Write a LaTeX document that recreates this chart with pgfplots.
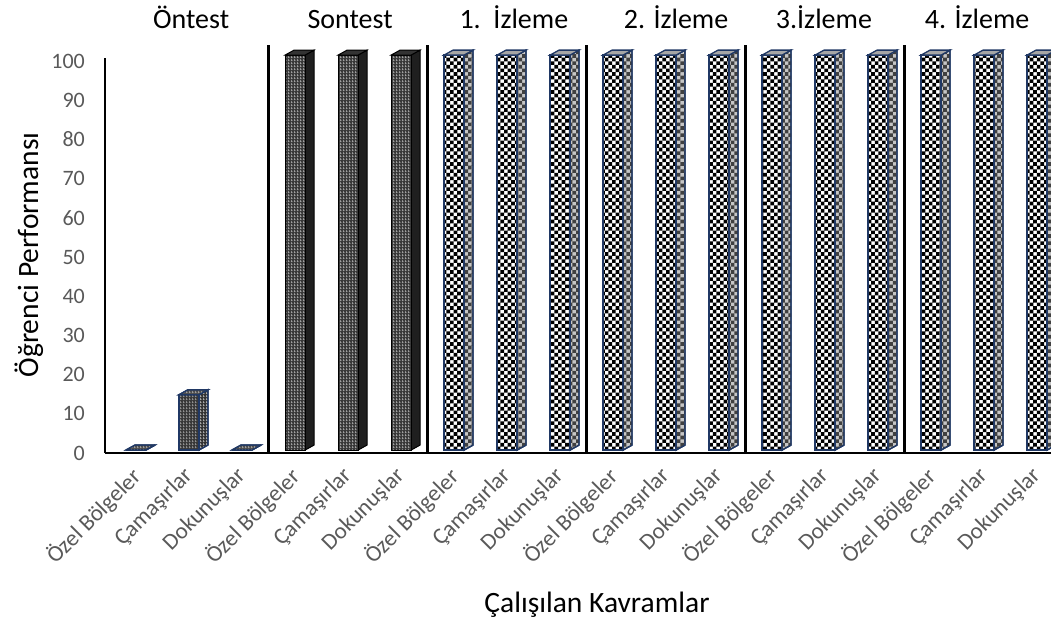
\documentclass[border=0pt]{standalone}
\usepackage{pgfplots}
\usepackage{pgfplotstable}
\pgfplotsset{compat=1.18}
\usepackage{fontspec}
\setmainfont{Carlito}
\usetikzlibrary{patterns}

\definecolor{tickgray}{RGB}{89,89,89}
\definecolor{barnavy}{RGB}{32,56,100}

% checkerboard with larger squares than the stock one
\pgfdeclarepatternformonly{checks}{\pgfqpoint{-.1bp}{-.1bp}}{\pgfqpoint{7.3bp}{7.3bp}}{\pgfqpoint{7.2bp}{7.2bp}}{%
  \pgfpathrectangle{\pgfqpoint{0bp}{0bp}}{\pgfqpoint{3.65bp}{3.65bp}}%
  \pgfpathrectangle{\pgfqpoint{3.6bp}{3.6bp}}{\pgfqpoint{3.65bp}{3.65bp}}%
  \pgfusepath{fill}}
% fine weave for the dark bars
\pgfdeclarepatternformonly{weave}{\pgfqpoint{0bp}{0bp}}{\pgfqpoint{2.5bp}{2.5bp}}{\pgfqpoint{2.5bp}{2.5bp}}{%
  \pgfpathrectangle{\pgfqpoint{0bp}{0bp}}{\pgfqpoint{0.7bp}{2.5bp}}%
  \pgfpathrectangle{\pgfqpoint{0bp}{0bp}}{\pgfqpoint{2.5bp}{0.5bp}}%
  \pgfusepath{fill}}

\pgfplotstableread{
x y
0 0
1 14
2 0
}\ontest
\pgfplotstableread{
x y
3 100
4 100
5 100
}\sontest
\pgfplotstableread{
x y
6 100
7 100
8 100
9 100
10 100
11 100
12 100
13 100
14 100
15 100
16 100
17 100
}\izleme

% 3d column drawn at each data point: #1 front, #2 side, #3 top
\pgfplotsset{
  bar3d/.style n args={3}{
    scatter, only marks, mark=*, mark size=0pt,
    mark options={draw=none,fill=none},
    point meta=explicit symbolic,
    scatter/@pre marker code/.code={%
      \pgfmathsetlengthmacro\bb{3bp-\pgfplotspointmeta*3.92bp}%
      \pgfmathsetlengthmacro\bt{3bp+\pgfplotspointmeta*0.03bp}%
      \path[#2] (10bp,\bb) -- (19bp,\bb+5bp) -- (19bp,\bt+5bp) -- (10bp,\bt) -- cycle;
      \path[#1] (-10bp,\bb) rectangle (10bp,\bt);
      \path[#3] (-10bp,\bt) -- (-1bp,\bt+5bp) -- (19bp,\bt+5bp) -- (10bp,\bt) -- cycle;
    },
    scatter/@post marker code/.code={},
  },
}

\begin{document}
\begin{tikzpicture}
\useasboundingbox (0,0) rectangle (1051bp,623bp);
\clip (0,0) rectangle (1051bp,623bp);
\begin{axis}[
  at={(105bp,170bp)}, anchor=south west,
  width=958.5bp, height=395bp, scale only axis,
  xmin=-0.585, xmax=17.5, ymin=0, ymax=100.8,
  axis x line=bottom, axis y line=left,
  axis line style={line width=2bp, -},
  major tick length=0pt,
  ytick={0,10,...,100},
  xtick={0,...,17},
  xticklabels={Özel Bölgeler,Çamaşırlar,Dokunuşlar,Özel Bölgeler,Çamaşırlar,Dokunuşlar,
    Özel Bölgeler,Çamaşırlar,Dokunuşlar,Özel Bölgeler,Çamaşırlar,Dokunuşlar,
    Özel Bölgeler,Çamaşırlar,Dokunuşlar,Özel Bölgeler,Çamaşırlar,Dokunuşlar},
  /pgf/number format/assume math mode=true,
  ticklabel style={font=\fontsize{22bp}{26bp}\selectfont, text=tickgray},
  yticklabel style={anchor=east, inner sep=0pt, xshift=-20bp},
  xticklabel style={anchor=north east, inner sep=0pt, xshift=-7bp, yshift=-12bp, rotate=45,
    font=\fontsize{23bp}{27bp}\selectfont},
  clip=false,
]
\addplot[bar3d={fill=black!78, postaction={pattern=weave, pattern color=gray!70}, draw=barnavy, line width=1.3bp}
  {fill=black!80, postaction={pattern=weave, pattern color=gray!45}, draw=barnavy, line width=1.3bp}
  {fill=black!70, postaction={pattern=weave, pattern color=gray!60}, draw=barnavy, line width=1.3bp}]
  table[x=x, y=y, meta=y] {\ontest};
\addplot[bar3d={fill=black!78, postaction={pattern=weave, pattern color=gray!55}, draw=black, line width=1bp}
  {fill=black!88, draw=black, line width=1bp}
  {fill=black!80, draw=black, line width=1bp}]
  table[x=x, y=y, meta=y] {\sontest};
\addplot[bar3d={fill=white, postaction={pattern=checks}, draw=barnavy, line width=1.3bp}
  {fill=gray!45, postaction={pattern=checks, pattern color=black!75}, draw=barnavy, line width=1.3bp}
  {fill=gray!70, draw=barnavy, line width=1.3bp}]
  table[x=x, y=y, meta=y] {\izleme};

% group separators
\pgfplotsinvokeforeach{2.5,5.5,8.5,11.5,14.5}{
  \draw[line width=3bp] (axis cs:#1,0) -- (axis cs:#1,104);
}

% group titles
\begin{scope}[every node/.style={anchor=base, font=\fontsize{28bp}{34bp}\selectfont}]
\node at (axis cs:1.04,108.4) {Öntest};
\node at (axis cs:4.04,108.4) {Sontest};
\node at (axis cs:7.13,108.4) {1.\ \ İzleme};
\node at (axis cs:10.19,108.4) {2. İzleme};
\node at (axis cs:12.98,108.4) {3.İzleme};
\node at (axis cs:15.87,108.4) {4. İzleme};
\end{scope}
\end{axis}
\node[anchor=base, font=\fontsize{29.5bp}{35bp}\selectfont] at (597bp,11bp) {Çalışılan Kavramlar};
\node[anchor=base, rotate=90, font=\fontsize{29.5bp}{35bp}\selectfont] at (38bp,368bp) {Öğrenci Performansı};
\end{tikzpicture}
\end{document}
